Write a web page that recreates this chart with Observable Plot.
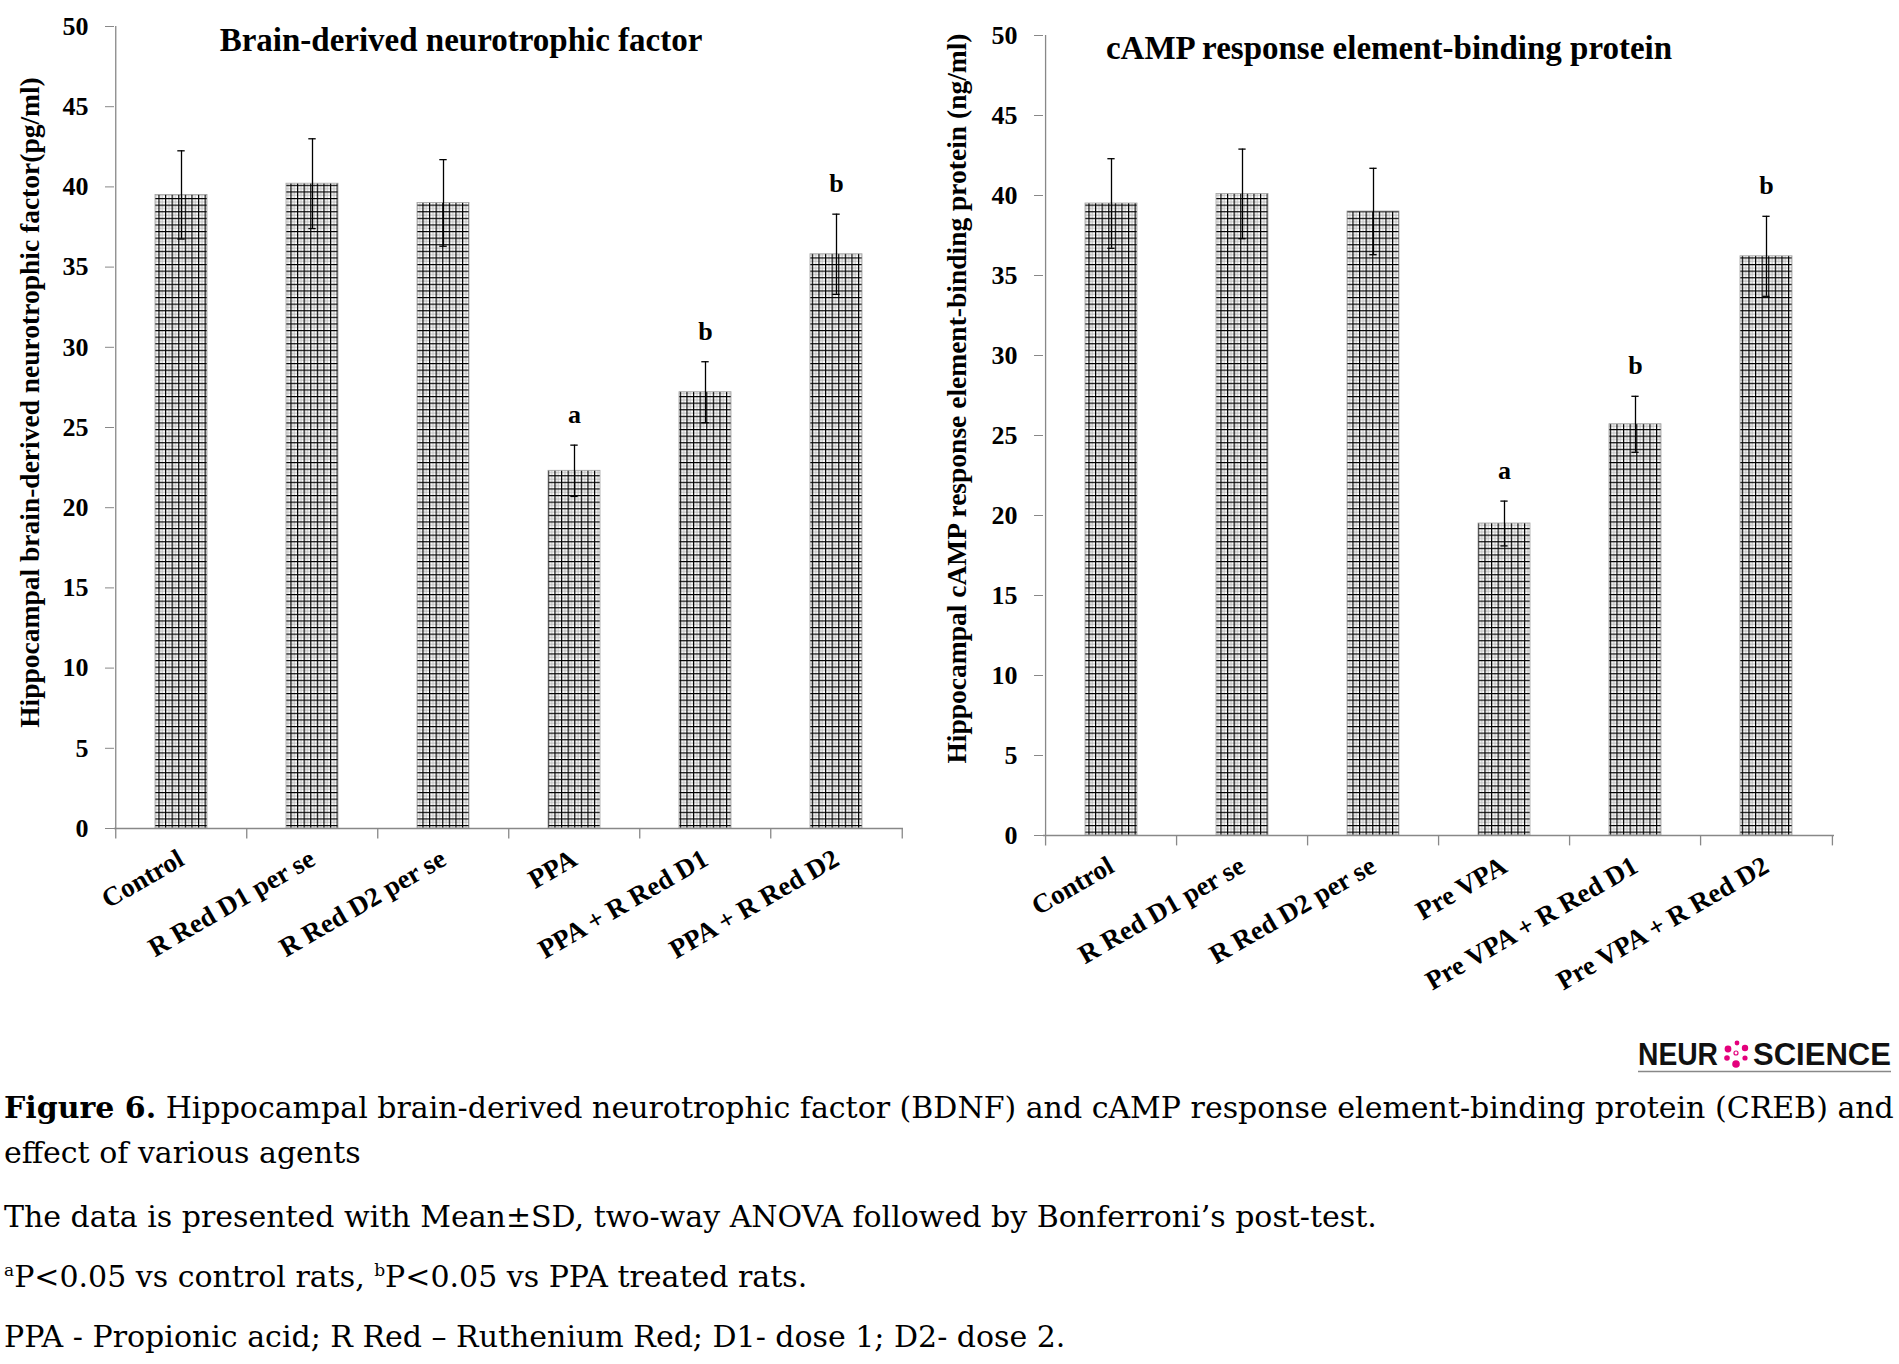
<!DOCTYPE html>
<html><head><meta charset="utf-8">
<script src="https://cdn.jsdelivr.net/npm/d3@7"></script>
<script src="https://cdn.jsdelivr.net/npm/@observablehq/plot@0.6"></script>
<style>
body{margin:0;background:#fff;width:1899px;height:1364px;position:relative;overflow:hidden;}
.pl{position:absolute;top:0;}
.cap{position:absolute;left:4px;font-family:'DejaVu Serif',serif;font-size:30px;line-height:30px;white-space:nowrap;color:#000;}
.cap sup{font-size:17px;vertical-align:11px;line-height:0;}
#logo{position:absolute;left:1636px;top:1036px;}
</style></head><body>
<div id="left" class="pl" style="left:0"></div>
<div id="right" class="pl" style="left:930px"></div>
<svg id="logo" width="258" height="40" xmlns="http://www.w3.org/2000/svg">
  <text x="2" y="29" textLength="80" lengthAdjust="spacingAndGlyphs" font-family="'Liberation Sans Narrow','Liberation Sans',sans-serif" font-weight="bold" font-size="31" fill="#111">NEUR</text>
  <g fill="#e4007c">
    <circle cx="101" cy="7" r="2.4"/><circle cx="109" cy="12" r="3.2"/><circle cx="92" cy="13" r="3.4"/>
    <circle cx="91" cy="22" r="2.8"/><circle cx="100" cy="28" r="3.8"/><circle cx="109" cy="22" r="2.6"/>
    <circle cx="100" cy="17" r="2" fill="none" stroke="#e4007c" stroke-width="1.2"/>
  </g>
  <text x="117" y="29" textLength="138" lengthAdjust="spacingAndGlyphs" font-family="'Liberation Sans Narrow','Liberation Sans',sans-serif" font-weight="bold" font-size="31" fill="#111">SCIENCE</text>
  <line x1="2" y1="35.5" x2="255" y2="35.5" stroke="#888" stroke-width="1.6"/>
</svg>
<div class="cap" style="top:1093px"><b>Figure 6.</b> Hippocampal brain-derived neurotrophic factor (BDNF) and cAMP response element-binding protein (CREB) and</div>
<div class="cap" style="top:1138px">effect of various agents</div>
<div class="cap" style="top:1202px">The data is presented with Mean±SD, two-way ANOVA followed by Bonferroni’s post-test.</div>
<div class="cap" style="top:1262px"><sup>a</sup>P&lt;0.05 vs control rats, <sup>b</sup>P&lt;0.05 vs PPA treated rats.</div>
<div class="cap" style="top:1322px">PPA - Propionic acid; R Red – Ruthenium Red; D1- dose 1; D2- dose 2.</div>
<script>
// ---- data ----
const categoriesBDNF = ["Control", "R Red D1 per se", "R Red D2 per se", "PPA", "PPA + R Red D1", "PPA + R Red D2"];
const meanBDNF = [39.5, 40.2, 39.0, 22.3, 27.2, 35.8];
const sdBDNF   = [2.75, 2.8, 2.7, 1.6, 1.9, 2.5];
const sigBDNF  = ["", "", "", "a", "b", "b"];

const categoriesCREB = ["Control", "R Red D1 per se", "R Red D2 per se", "Pre VPA", "Pre VPA + R Red D1", "Pre VPA + R Red D2"];
const meanCREB = [39.5, 40.1, 39.0, 19.5, 25.7, 36.2];
const sdCREB   = [2.8, 2.8, 2.7, 1.4, 1.75, 2.5];
const sigCREB  = ["", "", "", "a", "b", "b"];

const yTicks = [0, 5, 10, 15, 20, 25, 30, 35, 40, 45, 50];
const titleBDNF = "Brain-derived neurotrophic factor";
const titleCREB = "cAMP response element-binding protein";
const ylabelBDNF = "Hippocampal brain-derived neurotrophic factor(pg/ml)";
const ylabelCREB = "Hippocampal cAMP response element-binding protein (ng/ml)";

const serif = "'Liberation Serif','Times New Roman',serif";
const ns = "http://www.w3.org/2000/svg";

function chart(o) {
  const rows = o.cats.map((c, i) => ({cat: c, mean: o.mean[i], lo: o.mean[i] - o.sd[i], hi: o.mean[i] + o.sd[i], sig: o.sig[i]}));
  const step = (o.width - o.mL - o.mR) / o.cats.length;
  const bw = step * 0.4;
  const capW = 8;
  const last = o.cats[o.cats.length - 1];
  const svg = Plot.plot({
    width: o.width, height: o.height,
    marginLeft: o.mL, marginRight: o.mR, marginTop: o.mT, marginBottom: o.mB,
    style: {fontFamily: serif, background: "white", color: "#000", overflow: "visible"},
    x: {domain: o.cats, paddingInner: 0.6, paddingOuter: 0.3, axis: null},
    y: {domain: [0, 50], axis: null},
    marks: [
      Plot.barY(rows, {x: "cat", y: "mean", fill: `url(#${o.pid})`, stroke: "#a0a0a0", strokeWidth: 0.8}),
      Plot.ruleX(rows, {x: "cat", y1: "lo", y2: "hi", stroke: "#000", strokeWidth: 1.3}),
      Plot.tickY(rows, {x: "cat", y: "hi", stroke: "#000", strokeWidth: 1.3, insetLeft: (bw - capW) / 2, insetRight: (bw - capW) / 2}),
      Plot.tickY(rows, {x: "cat", y: "lo", stroke: "#000", strokeWidth: 1.3, insetLeft: (bw - capW) / 2, insetRight: (bw - capW) / 2}),
      Plot.ruleY([0], {stroke: "#888", strokeWidth: 1.3}),
      Plot.ruleX(o.cats, {x: d => d, dx: -step / 2, y1: () => -0.65, y2: d => d === o.cats[0] ? 50 : 0, stroke: "#888", strokeWidth: 1.3}),
      Plot.ruleX([last], {x: d => d, dx: step / 2, y1: () => -0.65, y2: () => 0, stroke: "#888", strokeWidth: 1.3}),
      Plot.axisY({ticks: yTicks, tickSize: 9, tickPadding: 17, fontSize: 26, fontWeight: "bold", stroke: "#888", label: null}),
      Plot.axisX({tickSize: 0, tickRotate: -30, tickPadding: 28, fontSize: 27, fontWeight: "bold", label: null}),
      Plot.text(rows.filter(r => r.sig), {x: "cat", y: "hi", text: "sig", dy: -22, lineAnchor: "bottom", fontSize: 26, fontWeight: "bold"}),
      Plot.text([o.title], {text: d => d, frameAnchor: "top", textAnchor: "middle", dx: o.titleDx, dy: o.titleDy, lineAnchor: "bottom", fontSize: 33, fontWeight: "bold"}),
      Plot.text([o.ylabel], {text: d => d, frameAnchor: "left", textAnchor: "middle", rotate: -90, dx: o.ylabDx, dy: o.ylabDy, fontSize: 27.5, fontWeight: "bold"})
    ]
  });
  const defs = document.createElementNS(ns, "defs");
  defs.innerHTML = `<pattern id="${o.pid}" patternUnits="userSpaceOnUse" width="6.6" height="6.6">
    <rect width="6.6" height="6.6" fill="#fff"/>
    <path d="M3.9 0V6.6M0 3.9H6.6" stroke="#b5b5b5" stroke-width="0.9"/>
    <path d="M0.6 0V6.6M0 0.6H6.6" stroke="#000" stroke-width="1.2"/>
  </pattern>`;
  svg.insertBefore(defs, svg.firstChild);
  return svg;
}

document.getElementById("left").appendChild(chart({
  cats: categoriesBDNF, mean: meanBDNF, sd: sdBDNF, sig: sigBDNF, title: titleBDNF, ylabel: ylabelBDNF,
  width: 930, height: 1000, mL: 114, mR: 27, mT: 26, mB: 172,
  titleDx: -48, titleDy: 24, ylabDx: -84, ylabDy: -25, pid: "gridL"
}));
document.getElementById("right").appendChild(chart({
  cats: categoriesCREB, mean: meanCREB, sd: sdCREB, sig: sigCREB, title: titleCREB, ylabel: ylabelCREB,
  width: 969, height: 1010, mL: 113, mR: 65, mT: 35, mB: 175,
  titleDx: -50, titleDy: 23, ylabDx: -86, ylabDy: -37, pid: "gridR"
}));
</script>
</body></html>
